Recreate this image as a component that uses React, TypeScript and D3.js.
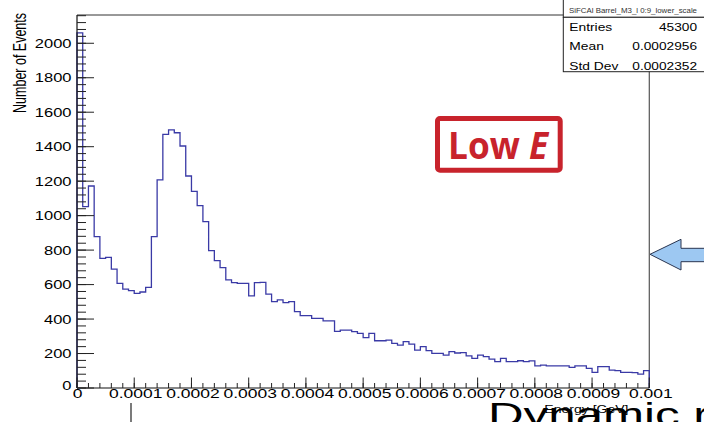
import React from 'react';
import * as d3 from 'd3';

// ---- data ----
const binCounts: number[] = [
  2060, 1052, 1172, 878, 752, 758, 690, 607, 574, 565,
  549, 557, 584, 878, 1207, 1472, 1497, 1481, 1404, 1230,
  1141, 1058, 965, 797, 739, 698, 627, 611, 607, 607,
  534, 611, 613, 545, 501, 511, 495, 501, 443, 420,
  420, 404, 404, 389, 389, 329, 336, 336, 327, 317,
  292, 317, 274, 274, 278, 259, 249, 269, 255, 220,
  240, 217, 201, 201, 191, 211, 203, 205, 186, 172,
  191, 182, 168, 153, 172, 153, 153, 158, 153, 157,
  128, 133, 128, 128, 128, 128, 120, 128, 128, 114,
  91, 124, 124, 104, 101, 91, 91, 89, 81, 101,
];
const xRange = [0, 0.001];
const yRange = [0, 2164];
const yMajorTicks = [0, 200, 400, 600, 800, 1000, 1200, 1400, 1600, 1800, 2000];
const xMajorTicks = [0, 0.0001, 0.0002, 0.0003, 0.0004, 0.0005, 0.0006, 0.0007, 0.0008, 0.0009, 0.001];
const xTickLabels = ['0', '0.0001', '0.0002', '0.0003', '0.0004', '0.0005', '0.0006', '0.0007', '0.0008', '0.0009', '0.001'];
const histTitle = 'SiFCAl Barrel_M3_l 0:9_lower_scale';
const statLabels = ['Entries', 'Mean', 'Std Dev'];
const statValues = ['45300', '0.0002956', '0.0002352'];
const xTitle = 'Energy [GeV]';
const yTitle = 'Number of Events';
const badgeWord = 'Low ';
const badgeVar = 'E';
const slideTitle = 'Dynamic range';

const FONT = "'Liberation Sans', Arial, sans-serif";

function SText(props: any) {
  const { x, y, sx = 1, anchor = 'start', size, fill = '#000', children, rotate, ...rest } = props;
  const tr = `translate(${x},${y}) scale(${sx},1)` + (rotate ? ` rotate(${rotate})` : '');
  return (
    <text transform={tr} textAnchor={anchor} fontSize={size} fontFamily={FONT} fill={fill} {...rest}>
      {children}
    </text>
  );
}

export default function App() {
  const W = 704, H = 422;
  const L = 77, R = 649.3, T = 15, B = 388;
  const x = d3.scaleLinear().domain(xRange).range([L, R]);
  const y = d3.scaleLinear().domain(yRange).range([B, T]);

  const nb = binCounts.length;
  const bw = (xRange[1] - xRange[0]) / nb;
  const pts: [number, number][] = [[xRange[0], 0]];
  binCounts.forEach((v, i) => {
    pts.push([xRange[0] + i * bw, v]);
    pts.push([xRange[0] + (i + 1) * bw, v]);
  });
  pts.push([xRange[1], 0]);
  const line = d3.line<[number, number]>().x(d => x(d[0])).y(d => y(d[1]));

  const yMinor = d3.range(0, yRange[1], 40);
  const xMinor = d3.range(0, 51).map(i => i * 0.00002);

  return (
    <svg width={W} height={H} style={{ position: 'absolute', left: 0, top: 0, background: '#fff' }}>
      <rect x={0} y={0} width={W} height={H} fill="#fff" />
      {/* frame */}
      <line x1={L} y1={T} x2={R} y2={T} stroke="#333" strokeWidth={1} />
      <line x1={R} y1={T} x2={R} y2={B} stroke="#555" strokeWidth={1.2} />
      {/* histogram */}
      <path d={line(pts) || ''} fill="none" stroke="#3a3aa6" strokeWidth={1.3} />
      {/* axes */}
      <line x1={L} y1={T} x2={L} y2={B} stroke="#111" strokeWidth={1.2} />
      <line x1={L} y1={B} x2={R} y2={B} stroke="#111" strokeWidth={1.2} />
      {yMinor.map(v => (
        <line key={'ym' + v} x1={L} x2={L + 9} y1={y(v)} y2={y(v)} stroke="#222" strokeWidth={1} />
      ))}
      {yMajorTicks.map(v => (
        <line key={'yM' + v} x1={L} x2={L + 17} y1={y(v)} y2={y(v)} stroke="#222" strokeWidth={1} />
      ))}
      {xMinor.map(v => (
        <line key={'xm' + v} x1={x(v)} x2={x(v)} y1={B} y2={B - 5} stroke="#222" strokeWidth={1} />
      ))}
      {xMajorTicks.map(v => (
        <line key={'xM' + v} x1={x(v)} x2={x(v)} y1={B} y2={B - 10.5} stroke="#222" strokeWidth={1} />
      ))}
      {yMajorTicks.map(v => (
        <SText key={'yl' + v} x={L - 5.5} y={v === 0 ? y(v) + 2 : y(v) + 4.5} sx={1.32} anchor="end" size={12.5}>
          {String(v)}
        </SText>
      ))}
      {xMajorTicks.map((v, i) => (
        <SText key={'xl' + v} x={x(v) + (i === 0 ? 0.5 : 1.5)} y={397.8} sx={1.4} anchor="middle" size={12.5}>
          {xTickLabels[i]}
        </SText>
      ))}
      <SText x={25.5} y={13} sx={1.4} anchor="end" size={12.5} rotate={-90}>{yTitle}</SText>

      {/* stats box */}
      <rect x={563.3} y={-2} width={150} height={19.3} fill="#fff" stroke="#222" strokeWidth={1} />
      <text x={633} y={12.5} textAnchor="middle" fontSize={8} fontFamily={FONT} fill="#333" textLength={128} lengthAdjust="spacingAndGlyphs">
        {histTitle}
      </text>
      <rect x={563.3} y={17.3} width={150} height={54.4} fill="#fff" stroke="#222" strokeWidth={1} />
      {statLabels.map((s, i) => (
        <SText key={'sl' + i} x={569.3} y={31 + i * 19.3} sx={1.17} size={11.8}>{s}</SText>
      ))}
      {statValues.map((s, i) => (
        <SText key={'sv' + i} x={697} y={31 + i * 19.3} sx={1.16} anchor="end" size={11.8}>{s}</SText>
      ))}

      {/* Low E badge */}
      <rect x={437.5} y={118.5} width={122.7} height={51.7} rx={2.5} fill="#fff" stroke="#c8232c" strokeWidth={5} />
      <text x={448} y={158.5} fontSize={37} fontWeight="bold" fontFamily="'Open Sans', sans-serif" fill="#c8232c" textLength={100} lengthAdjust="spacingAndGlyphs">
        {badgeWord}<tspan fontStyle="italic">{badgeVar}</tspan>
      </text>

      {/* arrow */}
      <polygon
        points="650,254.3 681,239.3 681,248.3 710,248.3 710,261.7 681,261.7 681,270"
        fill="#9dc8f2"
        stroke="#2a3550"
        strokeWidth={1}
      />

      {/* bottom slide bits */}
      <SText x={488} y={426} sx={1.45} size={34}>{slideTitle}</SText>
      <SText x={628.5} y={413.3} sx={1.22} anchor="end" size={11.5}>{xTitle}</SText>
      <line x1={131} x2={131} y1={403} y2={422} stroke="#333" strokeWidth={1.3} />
    </svg>
  );
}
